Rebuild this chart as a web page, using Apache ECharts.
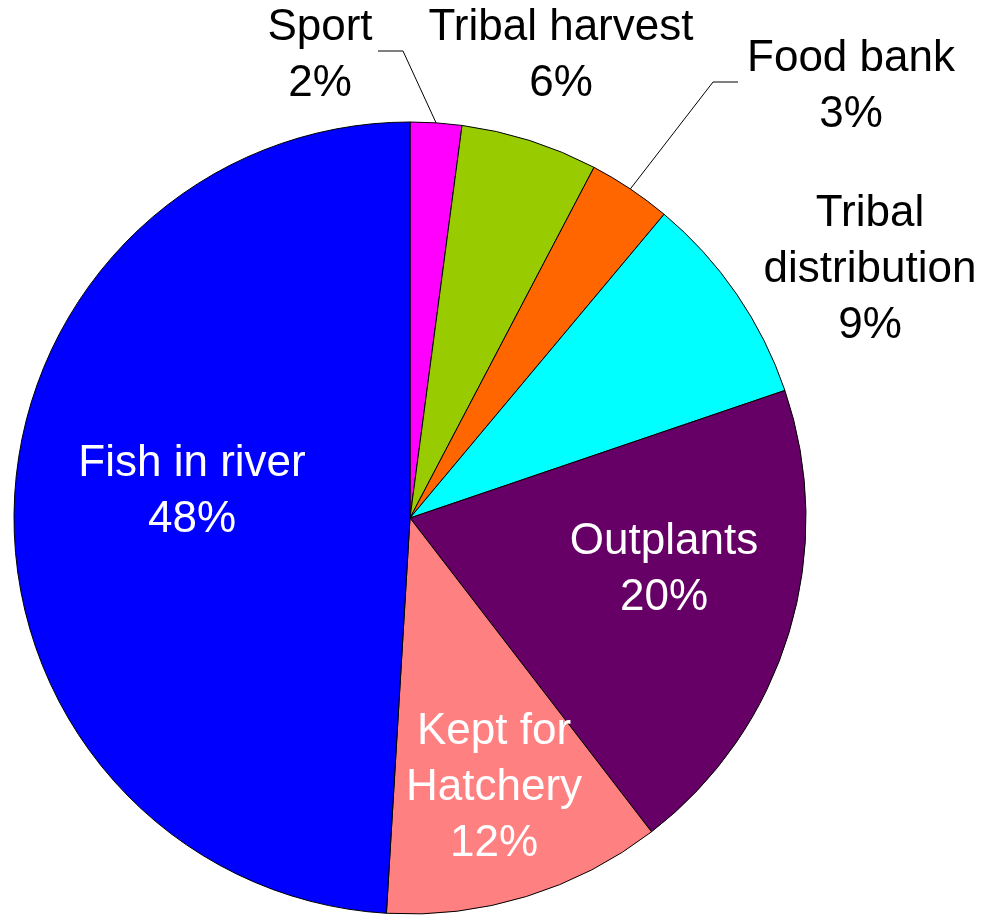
<!DOCTYPE html>
<html>
<head>
<meta charset="utf-8">
<script src="https://cdn.jsdelivr.net/npm/echarts@6/dist/echarts.min.js"></script>
<style>
  html, body { margin: 0; padding: 0; background: #fff; }
  #chart { width: 986px; height: 917px; }
</style>
</head>
<body>
<div id="chart"></div>
<script>
// Slice names (as printed), printed percentages
var categories = ['Sport', 'Tribal harvest', 'Food bank', 'Tribal\ndistribution', 'Outplants', 'Kept for\nHatchery', 'Fish in river'];
var values = [2.1, 5.6, 3.4, 8.7, 19.8, 11.4, 49.1];
var pctLabels = ['2%', '6%', '3%', '9%', '20%', '12%', '48%'];
var colors = ['#ff00ff', '#99cc00', '#ff6600', '#00ffff', '#660066', '#ff8080', '#0000ff'];

// Where each label sits (center of the text block) and the leader line bends
var labelSpots = [
    { x: 320, y: 56, line: [[403, 51], [378, 51]] },
    { x: 561, y: 56 },
    { x: 851, y: 87, line: [[713, 82], [738, 82]] },
    { x: 870, y: 270 },
    { x: 664, y: 570 },
    { x: 494, y: 788 },
    { x: 192, y: 492 }
];
var insideSlices = [4, 5, 6];

var chart = echarts.init(document.getElementById('chart'));

var pieData = categories.map(function (name, i) {
    var inside = insideSlices.indexOf(i) >= 0;
    return {
        name: name,
        value: values[i],
        itemStyle: { color: colors[i] },
        label: { color: inside ? '#fff' : '#000' },
        labelLine: { show: !!labelSpots[i].line }
    };
});

var option = {
    animation: false,
    series: [
        {
            type: 'pie',
            center: [410, 518],
            radius: 396,
            startAngle: 90,
            clockwise: true,
            avoidLabelOverlap: false,
            itemStyle: {
                borderColor: '#000',
                borderWidth: 1
            },
            label: {
                show: true,
                position: 'outside',
                fontFamily: 'Liberation Sans, Arial, sans-serif',
                fontSize: 44,
                lineHeight: 56,
                align: 'center',
                formatter: function (p) {
                    return p.name + '\n' + pctLabels[p.dataIndex];
                }
            },
            labelLine: {
                length: 20,
                length2: 20,
                lineStyle: { color: '#000', width: 1 }
            },
            emphasis: { disabled: true },
            data: pieData
        }
    ]
};

option.series[0].labelLayout = function (params) {
    var spot = labelSpots[params.dataIndex];
    var res = {
        x: spot.x,
        y: spot.y,
        align: 'center',
        verticalAlign: 'middle'
    };
    if (spot.line && params.labelLinePoints) {
        res.labelLinePoints = [params.labelLinePoints[0], spot.line[0], spot.line[1]];
    }
    return res;
};

chart.setOption(option);

window.addEventListener('resize', function () {
    chart.resize();
});
</script>
</body>
</html>
